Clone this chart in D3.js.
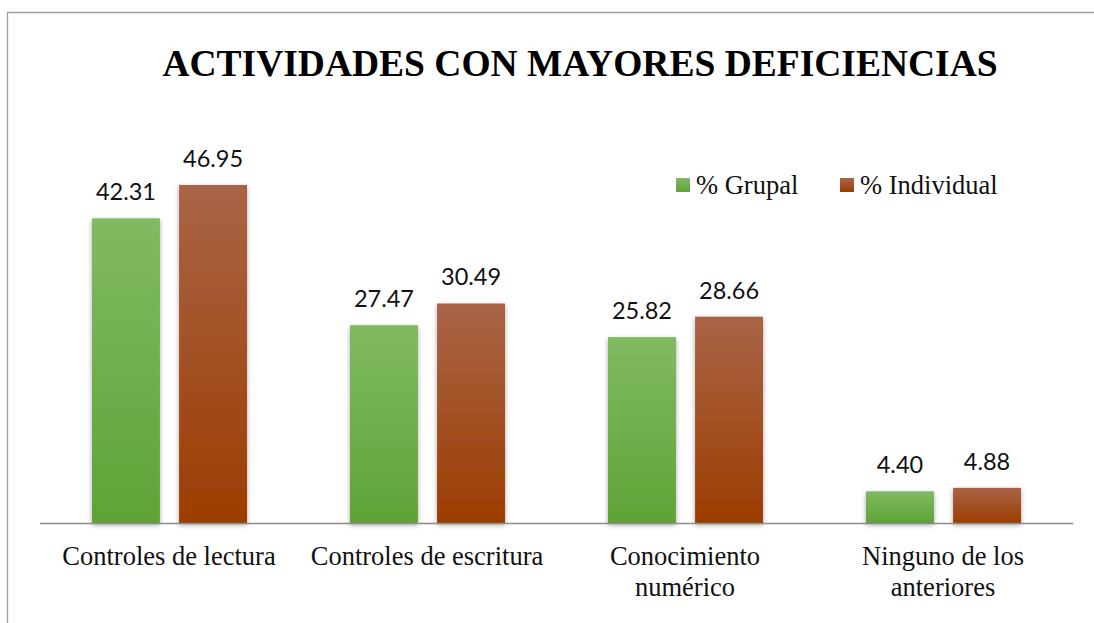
<!DOCTYPE html>
<html>
<head>
<meta charset="utf-8">
<script src="https://cdnjs.cloudflare.com/ajax/libs/d3/7.8.5/d3.min.js"></script>
<style>
  html, body { margin: 0; background: #fff; overflow: hidden; }
  svg { display: block; }
</style>
</head>
<body>
<svg id="chart" width="1094" height="623"></svg>
<script>
var categories = [["Controles de lectura"], ["Controles de escritura"], ["Conocimiento", "numérico"], ["Ninguno de los", "anteriores"]];
var series = ["% Grupal", "% Individual"];
var grupal = [42.31, 27.47, 25.82, 4.40];
var individual = [46.95, 30.49, 28.66, 4.88];

var svg = d3.select("#chart");
var serif = "'Liberation Serif', 'Times New Roman', serif";

// outer frame (only left and top edges fall inside the picture)
svg.append("path").attr("d", "M7.5,640V12.5H1100")
    .attr("fill", "none").attr("stroke", "#a0a0a0").attr("stroke-width", 1.3);

var defs = svg.append("defs");
function grad(id, top, bottom) {
    var g = defs.append("linearGradient").attr("id", id).attr("x1", 0).attr("y1", 0).attr("x2", 0).attr("y2", 1);
    g.append("stop").attr("offset", "0%").attr("stop-color", top);
    g.append("stop").attr("offset", "100%").attr("stop-color", bottom);
}
grad("gGreen", "#80ba62", "#5fa336");
grad("gBrown", "#a96447", "#9c3d00");
var f = defs.append("filter").attr("id", "shadow").attr("x", "-20%").attr("y", "-20%").attr("width", "140%").attr("height", "140%");
f.append("feDropShadow").attr("dx", 0).attr("dy", 2).attr("stdDeviation", 2.5).attr("flood-color", "#000").attr("flood-opacity", 0.35);

var x0 = d3.scaleBand().domain(d3.range(categories.length)).range([40, 1072]);
var x1 = d3.scaleBand().domain([0, 1]).range([52, 207]).paddingInner(0.22);
var y = d3.scaleLinear().domain([0, 50]).range([523, 163]);

var data = [grupal, individual];
var fills = ["url(#gGreen)", "url(#gBrown)"];

var groups = svg.selectAll("g.cat").data(categories).enter().append("g")
    .attr("class", "cat")
    .attr("transform", function (d, i) { return "translate(" + x0(i) + ",0)"; });

groups.each(function (cat, i) {
    var g = d3.select(this);
    [0, 1].forEach(function (s) {
        var v = data[s][i];
        g.append("rect")
            .attr("x", x1(s)).attr("width", x1.bandwidth())
            .attr("y", y(v)).attr("height", y(0) - y(v))
            .attr("fill", fills[s]).attr("filter", "url(#shadow)");
        g.append("text")
            .attr("x", x1(s) + x1.bandwidth() / 2).attr("y", y(v) - 18)
            .attr("text-anchor", "middle")
            .attr("font-family", "Lato, 'Open Sans', sans-serif")
            .attr("font-size", 23.5).attr("fill", "#111")
            .text(v.toFixed(2));
    });
    var t = g.append("text").attr("text-anchor", "middle")
        .attr("font-family", serif)
        .attr("font-size", 26.5).attr("fill", "#111");
    cat.forEach(function (line, k) {
        t.append("tspan").attr("x", x0.bandwidth() / 2).attr("y", 565 + k * 31).text(line);
    });
});

// baseline
svg.append("line").attr("x1", 40).attr("x2", 1073).attr("y1", 523.5).attr("y2", 523.5)
    .attr("stroke", "#8c8c8c").attr("stroke-width", 1.3);

// title
svg.append("text").attr("x", 580).attr("y", 76).attr("text-anchor", "middle")
    .attr("font-family", serif)
    .attr("font-weight", "bold").attr("font-size", 37.5).attr("fill", "#000")
    .text("ACTIVIDADES CON MAYORES DEFICIENCIAS");

// legend
var legX = [676, 840];
series.forEach(function (s, i) {
    svg.append("rect").attr("x", legX[i]).attr("y", 178).attr("width", 14).attr("height", 14)
        .attr("fill", fills[i]);
    svg.append("text").attr("x", legX[i] + 20).attr("y", 194)
        .attr("font-family", serif)
        .attr("font-size", 26.5).attr("fill", "#111").text(s);
});
</script>
</body>
</html>
